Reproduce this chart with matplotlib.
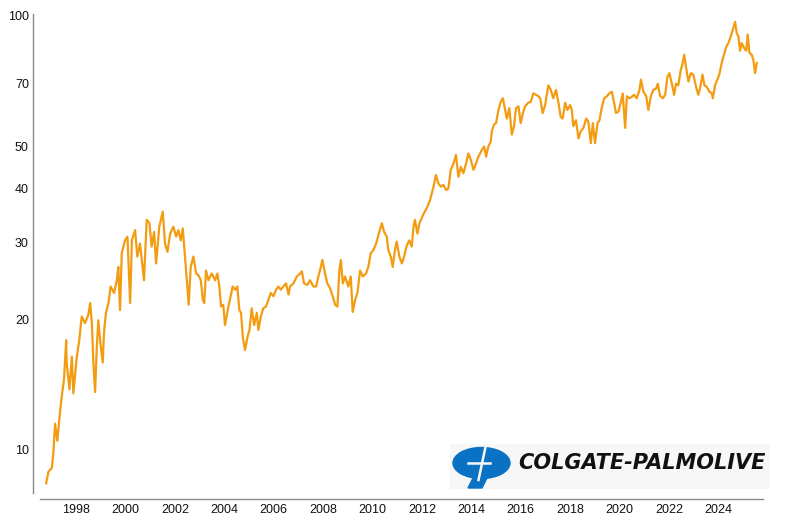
import matplotlib
matplotlib.use("Agg")
import matplotlib.pyplot as plt
from matplotlib.patches import Ellipse, Polygon, Rectangle
from matplotlib.ticker import FixedLocator, NullLocator

plt.rcParams['font.family'] = ['Liberation Sans', 'DejaVu Sans']

years = [
    1996.79, 1996.88, 1997.02, 1997.08, 1997.15, 1997.24, 1997.35, 1997.42, 1997.51, 1997.60,
    1997.62, 1997.73, 1997.83, 1997.89, 1998.03, 1998.13, 1998.23, 1998.36, 1998.50, 1998.57,
    1998.64, 1998.70, 1998.77, 1998.84, 1998.90, 1999.00, 1999.08, 1999.13, 1999.21, 1999.31,
    1999.40, 1999.54, 1999.65, 1999.71, 1999.78, 1999.85, 1999.98, 2000.08, 2000.19, 2000.26,
    2000.39, 2000.48, 2000.59, 2000.75, 2000.86, 2000.97, 2001.06, 2001.16, 2001.24, 2001.37,
    2001.51, 2001.60, 2001.70, 2001.81, 2001.94, 2002.05, 2002.14, 2002.24, 2002.32, 2002.41,
    2002.51, 2002.56, 2002.64, 2002.75, 2002.86, 2002.95, 2003.05, 2003.13, 2003.19, 2003.26,
    2003.36, 2003.49, 2003.63, 2003.72, 2003.80, 2003.87, 2003.96, 2004.03, 2004.14, 2004.23,
    2004.34, 2004.44, 2004.53, 2004.61, 2004.68, 2004.75, 2004.84, 2004.94, 2005.02, 2005.11,
    2005.21, 2005.32, 2005.38, 2005.48, 2005.58, 2005.69, 2005.79, 2005.88, 2005.99, 2006.10,
    2006.19, 2006.29, 2006.39, 2006.50, 2006.60, 2006.66, 2006.80, 2006.94, 2007.07, 2007.14,
    2007.23, 2007.36, 2007.47, 2007.61, 2007.72, 2007.81, 2007.91, 2007.97, 2008.08, 2008.17,
    2008.28, 2008.39, 2008.49, 2008.58, 2008.66, 2008.72, 2008.80, 2008.89, 2009.02, 2009.12,
    2009.20, 2009.30, 2009.39, 2009.50, 2009.61, 2009.74, 2009.83, 2009.93, 2010.04, 2010.15,
    2010.24, 2010.38, 2010.47, 2010.58, 2010.64, 2010.74, 2010.82, 2010.91, 2010.98, 2011.09,
    2011.19, 2011.28, 2011.39, 2011.49, 2011.59, 2011.66, 2011.72, 2011.82, 2011.90, 2012.05,
    2012.20, 2012.33, 2012.47, 2012.57, 2012.67, 2012.77, 2012.87, 2012.98, 2013.07, 2013.17,
    2013.28, 2013.38, 2013.48, 2013.58, 2013.68, 2013.79, 2013.88, 2013.98, 2014.09, 2014.19,
    2014.29, 2014.43, 2014.52, 2014.60, 2014.69, 2014.79, 2014.83, 2014.92, 2015.00, 2015.10,
    2015.19, 2015.28, 2015.37, 2015.44, 2015.54, 2015.64, 2015.73, 2015.81, 2015.91, 2016.00,
    2016.09, 2016.18, 2016.31, 2016.41, 2016.51, 2016.62, 2016.72, 2016.79, 2016.89, 2016.99,
    2017.12, 2017.22, 2017.32, 2017.43, 2017.53, 2017.62, 2017.70, 2017.80, 2017.89, 2018.00,
    2018.07, 2018.13, 2018.24, 2018.34, 2018.43, 2018.54, 2018.65, 2018.74, 2018.84, 2018.92,
    2019.01, 2019.11, 2019.19, 2019.28, 2019.38, 2019.49, 2019.59, 2019.69, 2019.78, 2019.86,
    2019.96, 2020.05, 2020.13, 2020.23, 2020.30, 2020.40, 2020.50, 2020.59, 2020.70, 2020.81,
    2020.87, 2020.97, 2021.08, 2021.17, 2021.27, 2021.37, 2021.48, 2021.55, 2021.64, 2021.75,
    2021.85, 2021.94, 2022.02, 2022.12, 2022.21, 2022.29, 2022.38, 2022.48, 2022.56, 2022.62,
    2022.70, 2022.79, 2022.89, 2022.99, 2023.10, 2023.19, 2023.26, 2023.36, 2023.44, 2023.53,
    2023.64, 2023.74, 2023.78, 2023.87, 2023.96, 2024.04, 2024.14, 2024.23, 2024.32, 2024.41,
    2024.51, 2024.59, 2024.68, 2024.75, 2024.81, 2024.88, 2024.95, 2025.05, 2025.13, 2025.19,
    2025.26, 2025.36, 2025.42, 2025.49, 2025.56,
]

prices = [
    8.38, 8.91, 9.09, 9.84, 11.5, 10.5, 12.2, 13.3, 14.5, 17.9,
    15.9, 13.8, 16.4, 13.5, 16.4, 17.9, 20.3, 19.6, 20.5, 21.8,
    19.6, 15.9, 13.6, 17.3, 19.9, 17.3, 15.9, 18.6, 20.7, 21.8,
    23.8, 23.0, 24.6, 26.4, 21.0, 28.4, 30.4, 31.0, 21.8, 30.4,
    32.1, 27.9, 29.9, 24.6, 33.9, 33.3, 29.4, 31.8, 26.9, 32.7,
    35.4, 29.9, 28.6, 31.5, 32.7, 31.0, 32.1, 30.4, 32.4, 27.9,
    23.4, 21.6, 26.4, 27.9, 25.5, 25.3, 24.6, 22.2, 21.8, 25.9,
    24.6, 25.5, 24.6, 25.5, 23.8, 21.4, 21.6, 19.4, 21.0, 22.2,
    23.8, 23.4, 23.8, 21.0, 20.7, 18.2, 17.0, 18.2, 18.9, 21.2,
    19.4, 20.7, 18.9, 20.3, 21.2, 21.4, 22.2, 23.0, 22.6, 23.4,
    23.8, 23.4, 23.8, 24.2, 22.8, 23.8, 24.2, 25.1, 25.5, 25.8,
    24.2, 24.0, 24.6, 23.8, 23.8, 25.1, 26.4, 27.4, 25.5, 24.2,
    23.6, 22.6, 21.6, 21.4, 25.9, 27.4, 24.2, 25.1, 23.8, 25.1,
    20.8, 22.2, 23.0, 25.9, 25.1, 25.5, 26.4, 28.4, 28.9, 29.9,
    31.3, 33.3, 31.8, 31.0, 28.9, 27.9, 26.4, 28.9, 30.2, 27.9,
    26.9, 27.9, 29.6, 30.4, 29.4, 32.7, 33.9, 31.5, 33.3, 34.8,
    36.1, 37.6, 40.4, 43.0, 41.1, 40.4, 40.8, 39.7, 40.0, 44.2,
    45.7, 47.8, 42.6, 44.9, 43.4, 45.7, 48.2, 46.6, 44.2, 45.7,
    47.4, 49.1, 50.0, 47.4, 50.0, 51.4, 54.2, 56.2, 56.6, 60.7,
    63.4, 64.6, 60.7, 58.0, 61.3, 53.3, 55.7, 61.3, 61.9, 56.6,
    59.7, 61.9, 63.1, 63.4, 66.3, 65.8, 65.3, 64.6, 59.7, 62.3,
    69.2, 67.5, 64.6, 67.5, 63.1, 58.5, 58.0, 63.1, 60.7, 62.3,
    60.7, 55.7, 57.5, 52.2, 54.2, 55.2, 58.0, 57.0, 50.9, 56.6,
    50.9, 56.6, 57.5, 61.3, 64.6, 65.3, 66.3, 66.9, 63.1, 59.7,
    60.2, 63.1, 66.3, 55.2, 65.3, 64.6, 65.1, 65.8, 64.6, 67.5,
    71.3, 66.9, 65.3, 60.7, 65.3, 67.5, 68.0, 69.8, 65.5, 64.6,
    65.8, 72.4, 73.8, 69.8, 65.8, 69.8, 69.2, 75.0, 77.9, 81.4,
    75.9, 70.6, 73.8, 73.2, 68.6, 65.8, 68.0, 73.2, 69.2, 68.6,
    66.9, 66.3, 64.6, 69.2, 71.3, 73.2, 77.9, 81.4, 84.8, 86.6,
    89.9, 93.0, 96.9, 91.0, 89.9, 83.1, 86.6, 84.2, 83.1, 90.6,
    82.3, 81.2, 79.2, 73.8, 77.9,
]

y_ticks = [10, 20, 30, 40, 50, 70, 100]
x_ticks = [1998, 2000, 2002, 2004, 2006, 2008, 2010, 2012, 2014, 2016, 2018, 2020, 2022, 2024]

W, H = 800, 520
fig = plt.figure(figsize=(8, 5.2), dpi=100)
ax = fig.add_axes([40 / W, 1 - 493 / H, 723 / W, 479 / H])
ax.plot(years, prices, color='#f39c12', lw=1.6, solid_joinstyle='round')
ax.set_yscale('log')
ax.set_ylim(7.96, 101)
ax.set_xlim(1996.54, 2025.81)
ax.yaxis.set_major_locator(FixedLocator(y_ticks))
ax.yaxis.set_minor_locator(NullLocator())
ax.set_yticklabels([str(v) for v in y_ticks])
ax.set_xticks(x_ticks)
ax.set_xticklabels([str(v) for v in x_ticks])
ax.tick_params(axis='both', length=0, labelsize=9, colors='#111111')
ax.tick_params(axis='y', pad=3)
ax.tick_params(axis='x', pad=4)
for s in ['top', 'right']:
    ax.spines[s].set_visible(False)
ax.spines['left'].set_position(('outward', 5))
ax.spines['bottom'].set_position(('outward', 4))
for s in ['left', 'bottom']:
    ax.spines[s].set_color('#888888')
    ax.spines[s].set_linewidth(1.0)

# Logo
lx0, lx1, ly0, ly1 = 450, 770, 444, 489
lax = fig.add_axes([lx0 / W, 1 - ly1 / H, (lx1 - lx0) / W, (ly1 - ly0) / H])
lax.set_xlim(lx0, lx1)
lax.set_ylim(ly1, ly0)
lax.axis('off')
lax.add_patch(Rectangle((lx0, ly0), lx1 - lx0, ly1 - ly0, color='#f7f7f7', zorder=0))
blue = '#0a72c4'
lax.add_patch(Ellipse((481.5, 463), 57, 31, color=blue, zorder=1))
lax.add_patch(Polygon([(477, 470), (491, 470), (482, 488), (468, 488)], color=blue, zorder=1))
lax.plot([485.5, 478.5], [447, 480], color='#f7f7f7', lw=1.8, zorder=2)
lax.plot([468, 490], [463.5, 463.5], color='#f7f7f7', lw=1.8, zorder=2)
lax.text(518, 463.5, 'COLGATE-PALMOLIVE', fontsize=15, fontweight='bold', fontstyle='italic',
         family=['DejaVu Sans'], color='#111111', ha='left', va='center')

fig.savefig('out.png', dpi=100)
